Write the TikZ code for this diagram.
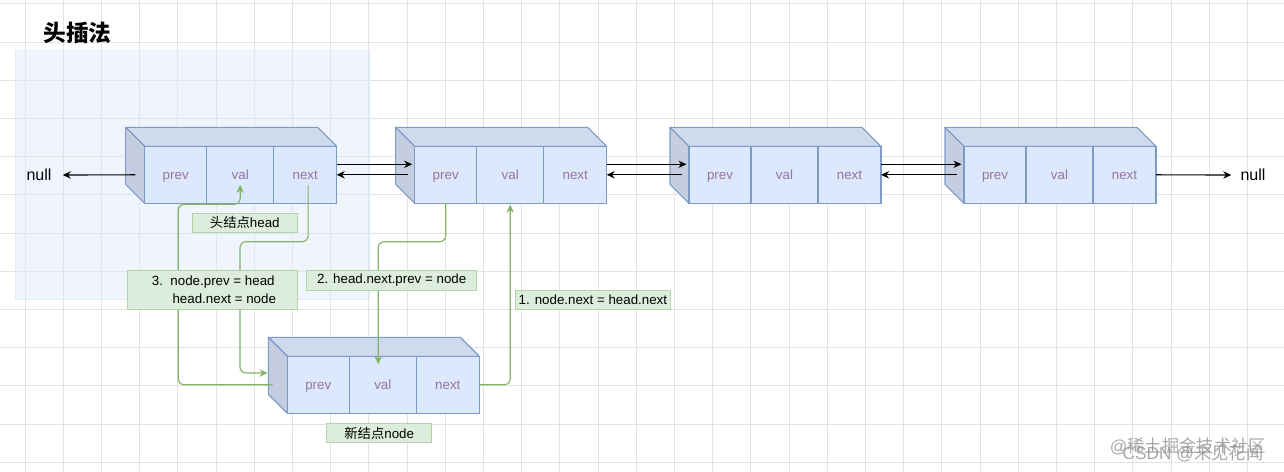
\documentclass[tikz,border=0pt]{standalone}
\usepackage{fontspec}
\setmainfont{Liberation Sans}
\newfontfamily\cjk{Noto Sans CJK SC}
\usetikzlibrary{arrows.meta}
\definecolor{boxfill}{HTML}{DCE8FC}
\definecolor{boxline}{HTML}{7D9AC8}
\definecolor{purp}{HTML}{9673A6}
\definecolor{grn}{HTML}{82B366}
\definecolor{grnfill}{HTML}{DDEDDB}
\definecolor{grnline}{HTML}{B5D3AA}
\definecolor{gridc}{HTML}{E3E3E3}
\definecolor{regionc}{HTML}{DAE8FC}
\tikzset{
  cell/.style={draw=boxline, fill=boxfill, line width=0.8pt, inner sep=0pt, outer sep=0pt,
    minimum height=42.75pt, text=purp, text height=7.2pt, text depth=0pt,
    font=\fontsize{10}{12}\selectfont, anchor=north west},
  topface/.style={draw=boxline, fill=boxfill!94!black, line width=0.8pt, line join=round},
  sideface/.style={draw=boxline, fill=boxfill!89!black, line width=0.8pt, line join=round},
  blk/.style={draw=black, line width=0.85pt, -{Stealth[length=6pt,width=5.5pt]}},
  garrow/.style={draw=grn, line width=0.85pt, rounded corners=4.5pt, -{Stealth[length=6pt,width=5.5pt]}},
  lbl/.style={draw=grnline, fill=grnfill, line width=0.7pt, inner sep=0pt,
    font=\fontsize{10}{12}\selectfont},
  txt/.style={inner sep=0pt, font=\fontsize{10}{12}\selectfont},
  nulltxt/.style={inner sep=0pt, font=\fontsize{12}{14}\selectfont},
  wm/.style={inner sep=0pt, text=black!45, opacity=0.75, font=\fontsize{13}{15}\selectfont}
}
\newcommand\listnode[3]{%
  \filldraw[topface] (#2,#3) -- ++(192,0) -- ++(19,19) -- ++(-192,0) -- cycle;
  \filldraw[sideface] (#2,#3) -- ++(19,19) -- ++(0,57) -- ++(-19,-19) -- cycle;
  \node[cell, minimum width=46.5pt] (#1-prev) at (#2+19,#3+19) {prev};
  \node[cell, minimum width=50.25pt] (#1-val) at (#1-prev.north east) {val};
  \node[cell, minimum width=47.25pt] (#1-next) at (#1-val.north east) {next};
}
\begin{document}
\begin{tikzpicture}[x=0.75pt,y=-0.75pt]
\useasboundingbox (0,0) rectangle (1284,471);
\fill[white] (0,0) rectangle (1284,471);
% grid
\foreach \i in {0,...,33} \draw[gridc, line width=0.75pt] ({25+38.2*\i},0) -- ({25+38.2*\i},471);
\foreach \j in {0,...,12} \draw[gridc, line width=0.75pt] (0,{3.9+38.2*\j}) -- (1284,{3.9+38.2*\j});
% shaded region
\filldraw[draw=regionc!80!white, fill=regionc, fill opacity=0.4, line width=0.75pt] (15,50) rectangle (369,299);
% title
\node[inner sep=0pt, font=\cjk\bfseries\fontsize{17}{20}\selectfont] (title) at (77.5,33) {头插法};
% list nodes
\listnode{n1}{125.7}{127.3}
\listnode{n2}{395.7}{127.3}
\listnode{n3}{670}{127.3}
\listnode{n4}{945}{127.3}
\listnode{new}{268.3}{337.3}
% null texts
\node[nulltxt] (nullL) at (39,175) {null};
\node[nulltxt] (nullR) at (1253,175) {null};
% black connectors
\draw[blk] ([xshift=-7pt]n1-prev.west) -- ([xshift=8.25pt]nullL.east);
\draw[blk] ([yshift=7.9pt]n1-next.east) -- ([xshift=-1.9pt,yshift=7.9pt]n2-prev.west);
\draw[blk] ([xshift=-5.2pt]n2-prev.west) -- (n1-next.east);
\draw[blk] ([yshift=7.9pt]n2-next.east) -- ([xshift=-1.9pt,yshift=7.9pt]n3-prev.west);
\draw[blk] ([xshift=-5.2pt]n3-prev.west) -- (n2-next.east);
\draw[blk] ([yshift=7.9pt]n3-next.east) -- ([xshift=-1.9pt,yshift=7.9pt]n4-prev.west);
\draw[blk] ([xshift=-5.2pt]n4-prev.west) -- (n3-next.east);
\draw[blk] (n4-next.east) -- ([xshift=-6.75pt]nullR.west);
% green connectors
% 1. node.next = head.next
\draw[garrow] (new-next.east) -| ([yshift=-1pt]n2-val.south);
% 2. head.next.prev = node
\coordinate (g2y) at (0,241.7);
\draw[garrow] (n2-prev.south) |- ([xshift=-3.4pt]new-val.north |- g2y) -- ([xshift=-3.4pt,yshift=-6pt]new-val.north);
% 3. head.next = node
\coordinate (g3a) at (240,241.7);
\coordinate (g3tip) at ([xshift=-14.8pt,yshift=8.85pt]new-prev.west);
\draw[garrow] ([xshift=2.2pt,yshift=-7.5pt]n1-next.center) |- (g3a) |- (g3tip);
% 3. node.prev = head
\coordinate (g4a) at (178.3,204.3);
\draw[garrow] ([xshift=-11pt]new-prev.west) -| (g4a) -| ([yshift=-7.5pt]n1-val.center);
% labels
\node[lbl, minimum width=78.75pt, minimum height=14.25pt] (lhead) at (244.8,222.8) {{\cjk 头结点}head};
\node[lbl, minimum width=127.7pt, minimum height=28.7pt] (l3) at (212.2,289.9) {};
\node[txt, anchor=west] (l3a) at (151.7,281.7) {3.\ \ node.prev = head};
\node[txt, anchor=west] (l3b) at (172.3,298.3) {head.next = node};
\node[lbl, minimum width=127.5pt, minimum height=14.5pt] (l2) at (391.7,280.3) {2. head.next.prev = node};
\node[lbl, minimum width=116.8pt, minimum height=13.9pt] (l1) at (592.9,299.8) {1. node.next = head.next};
\node[lbl, minimum width=78.75pt, minimum height=14.5pt] (lnew) at (379.2,433) {{\cjk 新结点}node};
% watermark
\node[wm] (wm1) at (1188,446) {@{\cjk 稀土掘金技术社区}};
\node[wm] (wm2) at (1193,453) {CSDN @{\cjk 未见花闻}};
\end{tikzpicture}
\end{document}
